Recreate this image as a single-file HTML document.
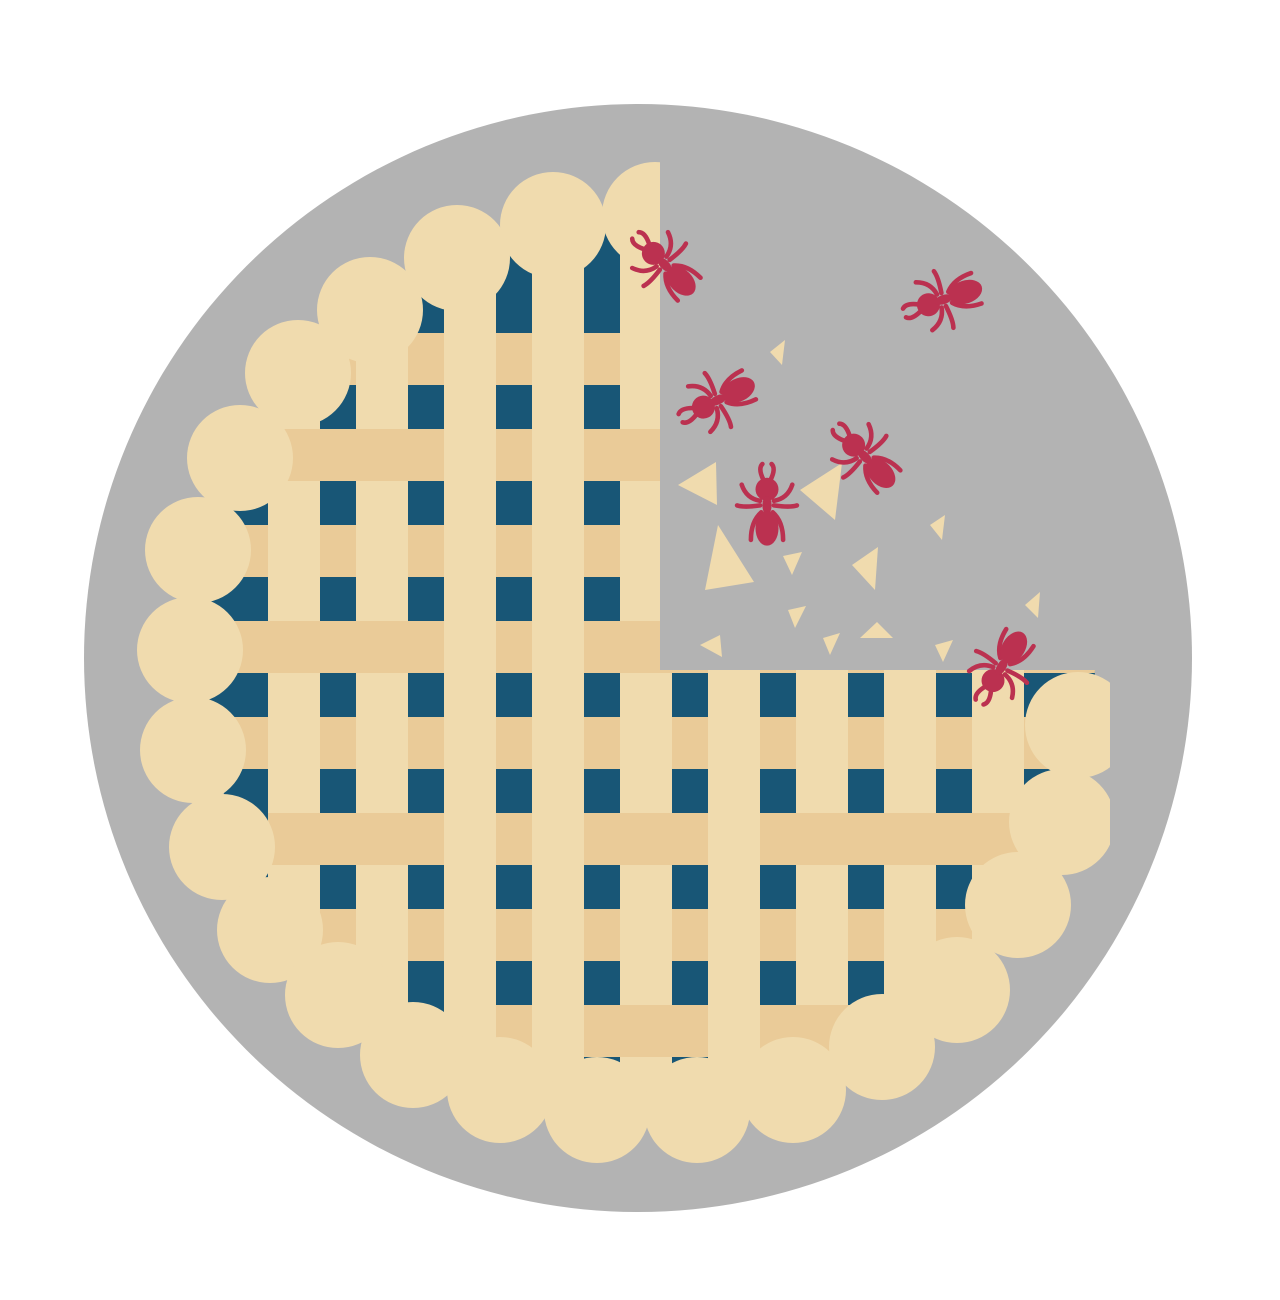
<!DOCTYPE html>
<html><head><meta charset="utf-8"><style>html,body{margin:0;padding:0;background:#fff}svg{display:block}</style></head>
<body>
<svg id="pie" width="1280" height="1300" viewBox="0 0 1280 1300">
<defs>
<clipPath id="pieClip">
<path d="M660,160 L660,670 L1110,670 L1110,1300 L0,1300 L0,160 Z"/>
</clipPath>
<clipPath id="fillClip"><circle cx="650" cy="665" r="445"/></clipPath>
<g id="ant">
<g fill="none" stroke="#bb3150" stroke-width="4" stroke-linecap="round">
<path d="M-3,-26 Q-8,-36 -4,-40"/><path d="M3,-26 Q8,-36 4,-40"/>
<path d="M-6,-8 Q-18,-10 -22,-22"/><path d="M6,-8 Q18,-10 22,-22"/>
<path d="M-6,-4 Q-20,-2 -26,-4"/><path d="M6,-4 Q20,-2 26,-4"/>
<path d="M-5,2 Q-14,10 -14,26"/><path d="M5,2 Q14,10 14,26"/>
</g>
<g fill="#bb3150">
<circle cx="0" cy="-18" r="10"/>
<ellipse cx="0" cy="-4" rx="4" ry="8"/>
<ellipse cx="0" cy="16" rx="10" ry="15"/>
</g>
</g>
</defs>
<circle cx="638" cy="658" r="554" fill="#b3b3b3"/>
<g clip-path="url(#pieClip)">
<circle cx="650" cy="665" r="445" fill="#185676"/>
<g id="lattice" clip-path="url(#fillClip)"></g>
<g id="crust"></g>
</g>
<g id="crumbs" fill="#f0dbae"></g>
<g id="ants"></g>
</svg>
<script>
const NS='http://www.w3.org/2000/svg';
const vStripX=[268,356,444,532,620,708,796,884,972];
const hStripY=[333,429,525,621,717,813,909,1005];
// for each horizontal row: indices of vertical strips it passes over
const overMap=[[],[0,1,4],[],[0,1,4],[],[0,1,4,6,7,8],[],[4,6]];
const rowStart=[150,268,150,216,150,268,150,496];
const crustBumps=[[655,215],[553,225],[457,258],[370,310],[298,373],[240,458],[198,550],[190,650],[193,750],[222,847],[270,930],[338,995],[413,1055],[500,1090],[597,1110],[697,1110],[793,1090],[882,1047],[957,990],[1018,905],[1062,822],[1078,725]];
const crumbs=[[[770,352],[785,340],[782,365]],[[678,485],[716,462],[717,505]],[[705,590],[718,525],[754,582]],[[800,490],[842,463],[835,520]],[[783,556],[802,552],[792,575]],[[852,565],[878,547],[875,590]],[[930,525],[945,515],[942,540]],[[788,610],[806,606],[795,628]],[[700,645],[720,635],[722,657]],[[823,638],[840,633],[830,655]],[[860,638],[877,622],[893,638]],[[935,645],[953,640],[943,662]],[[1025,605],[1040,592],[1038,618]]];
const antPos=[[668,268,-45],[948,298,-109],[722,398,-116],[868,460,-44],[767,510,0],[1004,663,212]];
const lat=document.getElementById('lattice');
function rect(x,y,w,h,f,name){const r=document.createElementNS(NS,'rect');r.setAttribute('x',x);r.setAttribute('y',y);r.setAttribute('width',w);r.setAttribute('height',h);r.setAttribute('fill',f);


lat.appendChild(r);}
hStripY.forEach((y,i)=>rect(rowStart[i],y,1150-rowStart[i],52,'#eacb98','lattice-horizontal-strip'));
vStripX.forEach(x=>rect(x,150,52,1000,'#f0dbae','lattice-vertical-strip'));
hStripY.forEach((y,i)=>overMap[i].forEach(j=>rect(vStripX[j],y,52,52,'#eacb98','lattice-crossing')));
const crust=document.getElementById('crust');
crustBumps.forEach(p=>{const c=document.createElementNS(NS,'circle');c.setAttribute('cx',p[0]);c.setAttribute('cy',p[1]);c.setAttribute('r',53);c.setAttribute('fill','#f0dbae');


crust.appendChild(c);});
const cr=document.getElementById('crumbs');
crumbs.forEach(t=>{const p=document.createElementNS(NS,'polygon');p.setAttribute('points',t.map(q=>q.join(',')).join(' '));


cr.appendChild(p);});
const ants=document.getElementById('ants');
antPos.forEach(a=>{const u=document.createElementNS(NS,'use');u.setAttribute('href','#ant');u.setAttribute('transform','translate('+a[0]+','+a[1]+') rotate('+a[2]+') scale(1.15)');


ants.appendChild(u);});
</script>
</body></html>
